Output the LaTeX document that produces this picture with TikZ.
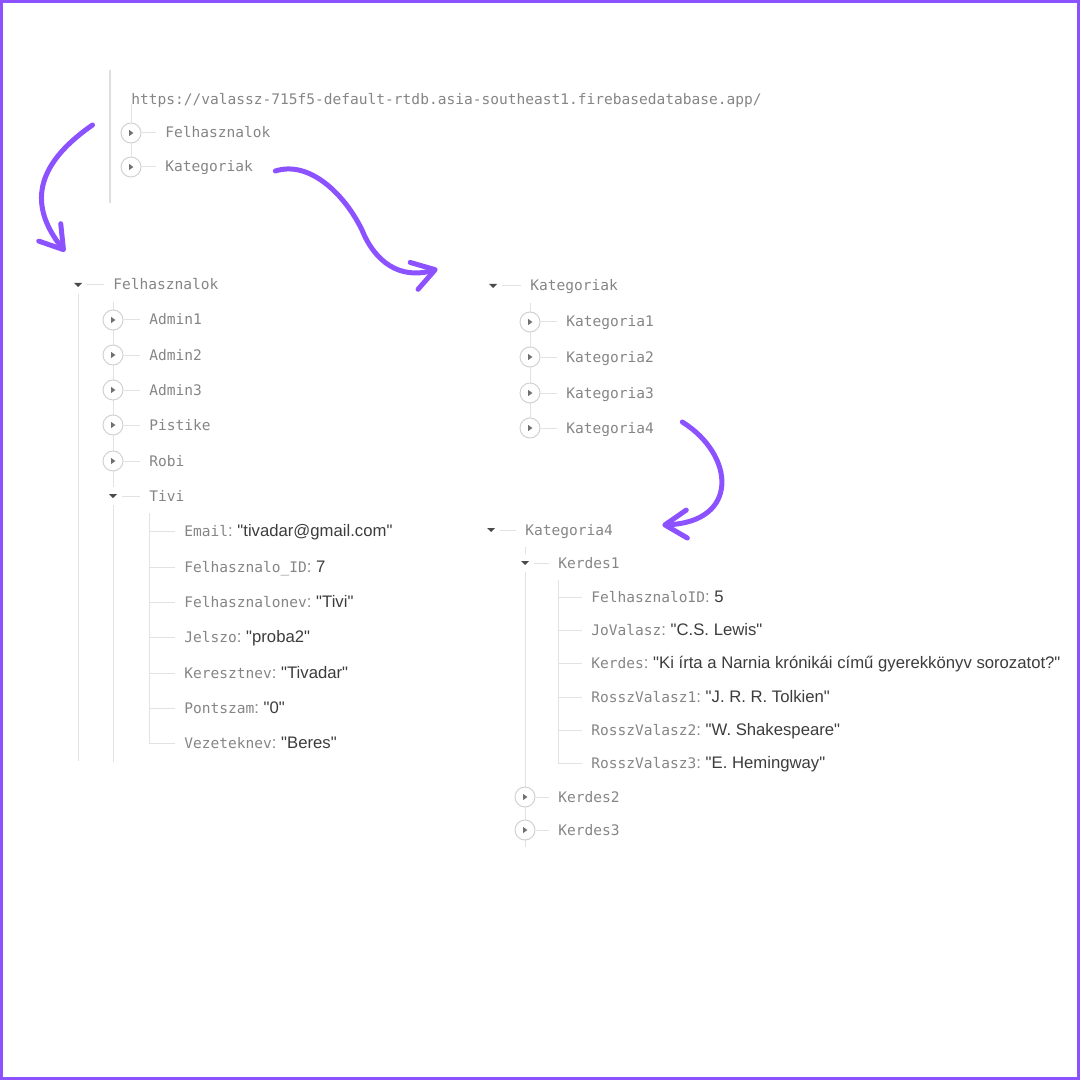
\documentclass[tikz,border=0pt]{standalone}
\usepackage{fontspec}
\setmonofont{DejaVu Sans Mono}
\setsansfont{Liberation Sans}
\usetikzlibrary{arrows.meta}

\definecolor{frame}{HTML}{8C52FF}
\definecolor{keygray}{HTML}{858585}
\definecolor{valdark}{HTML}{3C3C3C}
\definecolor{treeline}{HTML}{E2E2E2}
\definecolor{railgray}{HTML}{DEDEDE}
\definecolor{iconring}{HTML}{D2D2D2}
\definecolor{icontip}{HTML}{707070}
\definecolor{icondark}{HTML}{4A4A4A}

\newcommand\keyfont{\ttfamily\fontsize{7.27}{9}\selectfont}
\newcommand\valfont{\sffamily\fontsize{8.35}{10}\selectfont}
\newcommand\field[2]{#1{\valfont:\ \color{valdark}#2}}
\newcommand\qt[1]{\textquotedbl#1\textquotedbl}

\tikzset{
  key/.style={anchor=west, inner sep=0pt, text height=5pt, text depth=0pt, text=keygray, font=\keyfont},
  closed/.style={circle, draw=iconring, line width=0.5pt, fill=white, minimum size=10pt, inner sep=0pt,
    path picture={\fill[icontip] ([xshift=-0.9pt,yshift=1.5pt]path picture bounding box.center)
      -- ++(2.1pt,-1.5pt) -- ++(-2.1pt,-1.5pt) -- cycle;}},
  opened/.style={fill=white, minimum size=9pt, inner sep=0pt,
    path picture={\fill[icondark] ([xshift=-2pt,yshift=1pt]path picture bounding box.center)
      -- ++(4pt,0) -- ++(-2pt,-2pt) -- cycle;}},
  tree/.style={draw=treeline, line width=0.5pt},
  rail/.style={draw=railgray, line width=1.2pt},
  hop/.style={draw=frame, line width=2.5pt, line cap=round,
    -{Straight Barb[length=11pt,width=14pt,round]}},
}

\begin{document}
\begin{tikzpicture}[x=0.5pt,y=-0.5pt]
  \useasboundingbox (0,0) rectangle (1080,1080);
  \draw[frame, line width=1.5pt] (1.5,1.5) rectangle (1078.5,1078.5);

  % root
  \draw[rail] (110,70) -- (110,203);
  \node[key] (url) at (131,100) {https://valassz-715f5-default-rtdb.asia-southeast1.firebasedatabase.app/};
  \node[closed] (i-fel) at (131,133) {};
  \node[key] (t-fel) at (165,133) {Felhasznalok};
  \node[closed] (i-kat) at (131,167) {};
  \node[key] (t-kat) at (165,167) {Kategoriak};
  \draw[tree] ([yshift=9pt]i-fel.north) -- (i-fel.north);
  \draw[tree] (i-fel.south) -- (i-kat.north);
  \draw[tree] (i-fel.east) -- ([xshift=-4.5pt]t-fel.west);
  \draw[tree] (i-kat.east) -- ([xshift=-4.5pt]t-kat.west);

  % Felhasznalok
  \node[key] (h-fel) at (113,285) {Felhasznalok};
  \draw[tree] ([yshift=-8.5pt]h-fel.west) -- ++(0,460);
  \node[opened] (o-fel) at (78,285) {};
  \draw[tree] (o-fel.south) -- ++(0,467);
  \draw[tree] (o-fel.east) -- ([xshift=-4.5pt]h-fel.west);
  \foreach \y/\n [count=\i] in {320/Admin1, 355/Admin2, 390/Admin3, 425/Pistike, 461/Robi}{
    \node[closed] (i-u\i) at (113,\y) {};
    \node[key] (t-u\i) at (149,\y) {\n};
    \draw[tree] (i-u\i.east) -- ([xshift=-4.5pt]t-u\i.west);
  }
  \node[opened] (o-tivi) at (113,496) {};
  \node[key] (t-tivi) at (149,496) {Tivi};
  \draw[tree] (o-tivi.east) -- ([xshift=-4.5pt]t-tivi.west);
  \foreach \y/\k/\v [count=\i] in {531/Email/\qt{tivadar@gmail.com}, 567/Felhasznalo\_ID/7,
      602/Felhasznalonev/\qt{Tivi}, 637/Jelszo/\qt{proba2}, 673/Keresztnev/\qt{Tivadar},
      708/Pontszam/\qt{0}, 743/Vezeteknev/\qt{Beres}}{
    \node[key] (tv\i) at (184,\y) {\field{\k}{\v}};
    \draw[tree] (t-tivi.west |- tv\i.west) -- ([xshift=-4.5pt]tv\i.west);
  }
  \draw[tree] ([yshift=-8.5pt]t-tivi.west) -- (t-tivi.west |- tv7.west);

  % Kategoriak
  \node[key] (h-kat) at (530,286) {Kategoriak};
  \draw[tree] ([yshift=-8.5pt]h-kat.west) -- ++(0,125);
  \node[opened] (o-kat) at (493,286) {};
  \draw[tree] (o-kat.east) -- ([xshift=-4.5pt]h-kat.west);
  \foreach \y [count=\i] in {322,357,393,428}{
    \node[closed] (i-k\i) at (530,\y) {};
    \node[key] (t-k\i) at (566,\y) {Kategoria\i};
    \draw[tree] (i-k\i.east) -- ([xshift=-4.5pt]t-k\i.west);
  }

  % Kategoria4
  \node[key] (h-k4) at (525,530) {Kategoria4};
  \draw[tree] ([yshift=-8.5pt]h-k4.west) -- ++(0,300);
  \node[opened] (o-k4) at (491,530) {};
  \draw[tree] (o-k4.east) -- ([xshift=-4.5pt]h-k4.west);
  \node[opened] (o-q1) at (525,563) {};
  \node[key] (t-q1) at (558,563) {Kerdes1};
  \draw[tree] (o-q1.east) -- ([xshift=-4.5pt]t-q1.west);
  \foreach \y/\k/\v [count=\i] in {597/FelhasznaloID/5, 630/JoValasz/\qt{C.S. Lewis},
      663/Kerdes/\qt{Ki írta a Narnia krónikái című gyerekkönyv sorozatot?},
      697/RosszValasz1/\qt{J. R. R. Tolkien}, 730/RosszValasz2/\qt{W. Shakespeare},
      763/RosszValasz3/\qt{E. Hemingway}}{
    \node[key] (q\i) at (591,\y) {\field{\k}{\v}};
    \draw[tree] (t-q1.west |- q\i.west) -- ([xshift=-4.5pt]q\i.west);
  }
  \draw[tree] ([yshift=-8.5pt]t-q1.west) -- (t-q1.west |- q6.west);
  \foreach \y [count=\i from 2] in {797,830}{
    \node[closed] (i-q\i) at (525,\y) {};
    \node[key] (t-q\i) at (558,\y) {Kerdes\i};
    \draw[tree] (i-q\i.east) -- ([xshift=-4.5pt]t-q\i.west);
  }

  % arrows
  \draw[hop] ([shift={(-28,-8)}]i-fel.west) .. controls (35,165) and (28,205) .. ([shift={(-13,-24)}]o-fel.north);
  \draw[hop] ([shift={(22,4)}]t-kat.east) .. controls (310,160) and (345,195) .. (362,230)
    .. controls (375,262) and (400,280) .. ([shift={(-46,-17)}]o-kat.west);
  \draw[hop] ([shift={(28,-6)}]t-k4.east) .. controls (735,455) and (740,522) .. ([shift={(49,-5)}]h-k4.east);
\end{tikzpicture}
\end{document}
